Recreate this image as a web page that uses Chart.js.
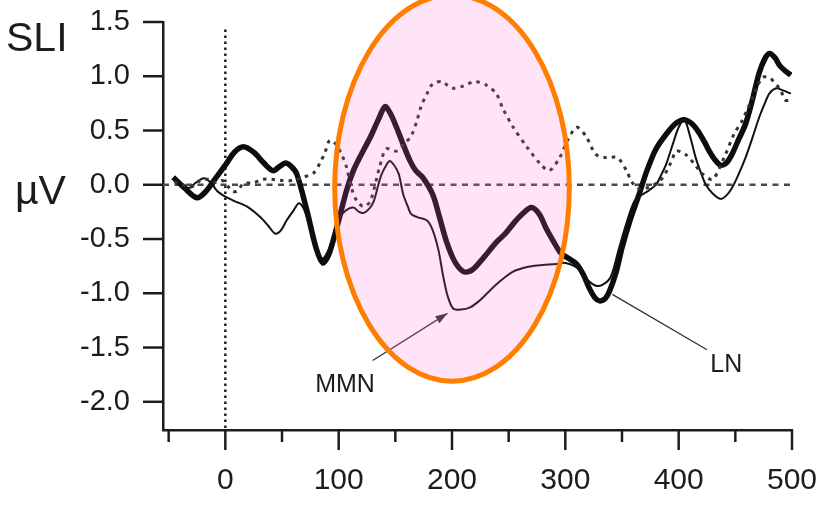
<!DOCTYPE html>
<html>
<head>
<meta charset="utf-8">
<script src="https://cdn.jsdelivr.net/npm/chart.js@4.4.1/dist/chart.umd.min.js"></script>
<style>
  html, body { margin: 0; padding: 0; background: #fff; }
  #wrap { width: 827px; height: 505px; position: relative; }
</style>
</head>
<body>
<div id="wrap"><canvas id="erp"></canvas></div>
<script>
// ERP waveforms (ms, µV)
const thickTimes = [-46, -36, -25, -17, -10, 0, 8, 16, 25, 34, 42, 48, 53, 58, 63, 72, 80, 86, 91, 95, 100, 107, 113, 120, 128, 135, 141, 146, 151, 157, 163, 168, 174, 183, 189, 195, 202, 210, 217, 224, 232, 239, 247, 254, 262, 270, 277, 283, 290, 296, 303, 310, 316, 321, 326, 330, 335, 339, 345, 350, 357, 365, 372, 380, 390, 398, 405, 412, 418, 423, 427, 432, 437, 442, 447, 453, 459, 465, 471, 476, 480, 485, 489, 494, 499];
const thickValues = [0.07, -0.03, -0.12, -0.06, 0.04, 0.18, 0.3, 0.35, 0.3, 0.2, 0.13, 0.17, 0.2, 0.17, 0.1, -0.24, -0.58, -0.72, -0.65, -0.52, -0.33, -0.05, 0.13, 0.28, 0.44, 0.6, 0.72, 0.65, 0.53, 0.37, 0.22, 0.13, 0.07, -0.09, -0.3, -0.52, -0.7, -0.8, -0.79, -0.72, -0.62, -0.53, -0.45, -0.36, -0.27, -0.21, -0.27, -0.4, -0.53, -0.63, -0.68, -0.73, -0.83, -0.95, -1.04, -1.07, -1.05, -0.98, -0.8, -0.58, -0.33, -0.09, 0.13, 0.33, 0.48, 0.57, 0.6, 0.56, 0.48, 0.39, 0.31, 0.23, 0.18, 0.2, 0.28, 0.42, 0.56, 0.78, 1.03, 1.16, 1.21, 1.17, 1.1, 1.05, 1.01];

const thinTimes = [-44, -38, -32, -26, -19, -13, -7, 0, 8, 19, 31, 38, 44, 49, 54, 60, 65, 70, 76, 82, 86, 91, 95, 100, 106, 113, 118, 122, 127, 131, 135, 138, 142, 145, 149, 153, 157, 161, 164, 170, 178, 183, 188, 192, 196, 201, 208, 216, 224, 232, 239, 247, 254, 262, 270, 280, 292, 300, 308, 314, 320, 327, 333, 340, 347, 354, 361, 368, 374, 380, 385, 389, 395, 400, 405, 410, 415, 420, 424, 430, 437, 442, 447, 453, 459, 465, 471, 476, 480, 486, 492, 499];
const thinValues = [0.04, 0.0, -0.03, 0.02, 0.06, 0.02, -0.06, -0.11, -0.15, -0.2, -0.3, -0.38, -0.45, -0.42, -0.33, -0.24, -0.17, -0.24, -0.45, -0.62, -0.68, -0.6, -0.48, -0.32, -0.24, -0.21, -0.25, -0.26, -0.22, -0.15, 0.0, 0.1, 0.18, 0.22, 0.18, 0.1, -0.09, -0.2, -0.27, -0.3, -0.33, -0.42, -0.6, -0.83, -1.02, -1.14, -1.15, -1.13, -1.07, -0.99, -0.92, -0.85, -0.8, -0.77, -0.75, -0.74, -0.73, -0.72, -0.75, -0.8, -0.88, -0.93, -0.92, -0.85, -0.6, -0.35, -0.15, -0.09, -0.05, 0.0, 0.1, 0.19, 0.38, 0.53, 0.6, 0.45, 0.25, 0.1, 0.0, -0.08, -0.13, -0.1, -0.03, 0.1, 0.25, 0.43, 0.62, 0.75, 0.84, 0.89, 0.87, 0.84];

const dottedTimes = [-45, -38, -30, -22, -15, -8, -3, 2, 6, 10, 16, 25, 33, 41, 50, 60, 69, 78, 84, 88, 92, 97, 103, 107, 111, 116, 122, 128, 136, 142, 151, 158, 164, 169, 173, 178, 183, 191, 200, 210, 220, 230, 239, 245, 254, 266, 279, 286, 295, 302, 310, 318, 327, 336, 346, 354, 359, 366, 374, 384, 393, 398, 406, 414, 421, 430, 440, 449, 456, 468, 474, 481, 490, 494, 499];
const dottedValues = [0.03, 0.0, -0.02, 0.04, 0.05, 0.02, 0.04, -0.01, -0.06, -0.06, 0.01, 0.02, 0.05, 0.05, 0.04, 0.04, 0.07, 0.11, 0.21, 0.3, 0.41, 0.38, 0.27, 0.16, -0.02, -0.15, -0.2, -0.15, 0.16, 0.33, 0.31, 0.38, 0.45, 0.59, 0.73, 0.84, 0.93, 0.95, 0.89, 0.91, 0.95, 0.92, 0.84, 0.7, 0.53, 0.35, 0.18, 0.13, 0.25, 0.41, 0.53, 0.45, 0.28, 0.25, 0.25, 0.13, 0.02, -0.04, -0.02, 0.04, 0.2, 0.31, 0.28, 0.19, 0.1, 0.05, 0.25, 0.47, 0.59, 0.87, 0.99, 0.98, 0.87, 0.78, 0.78];

const xTicks = [-50, 0, 50, 100, 150, 200, 250, 300, 350, 400, 450, 500];
const yTicks = [-2.0, -1.5, -1.0, -0.5, 0.0, 0.5, 1.0, 1.5];

const toPoints = (xs, ys) => xs.map((x, i) => ({ x: x, y: ys[i] }));

const FONT = '"Liberation Sans", Arial, sans-serif';
const INK = '#1c1c1c';

// highlighted window + annotations, given in data units
const mmnWindow = { x: 200, y: -0.03, rx: 103.5, ry: 1.78 };

const decorations = {
  id: 'decorations',
  beforeDatasetsDraw(chart) {
    const { ctx, chartArea, scales: { x, y } } = chart;
    ctx.save();
    // zero baseline
    ctx.strokeStyle = '#4a4a4a';
    ctx.lineWidth = 2.5;
    ctx.setLineDash([6, 5.5]);
    ctx.beginPath();
    ctx.moveTo(chartArea.left, y.getPixelForValue(0));
    ctx.lineTo(chartArea.right, y.getPixelForValue(0));
    ctx.stroke();
    // stimulus onset
    ctx.strokeStyle = '#222';
    ctx.setLineDash([2.5, 3.5]);
    ctx.beginPath();
    ctx.moveTo(x.getPixelForValue(0), y.getPixelForValue(1.43));
    ctx.lineTo(x.getPixelForValue(0), chartArea.bottom);
    ctx.stroke();
    ctx.restore();
  },
  afterDatasetsDraw(chart) {
    const { ctx, scales: { x, y } } = chart;
    ctx.save();
    ctx.strokeStyle = '#333';
    ctx.fillStyle = '#333';
    ctx.lineWidth = 1.3;

    // MMN arrow
    const ax0 = x.getPixelForValue(130), ay0 = y.getPixelForValue(-1.62);
    const ax1 = x.getPixelForValue(196), ay1 = y.getPixelForValue(-1.185);
    ctx.beginPath();
    ctx.moveTo(ax0, ay0);
    ctx.lineTo(ax1, ay1);
    ctx.stroke();
    const ang = Math.atan2(ay1 - ay0, ax1 - ax0);
    ctx.beginPath();
    ctx.moveTo(ax1, ay1);
    ctx.lineTo(ax1 - 12 * Math.cos(ang) + 4 * Math.sin(ang), ay1 - 12 * Math.sin(ang) - 4 * Math.cos(ang));
    ctx.lineTo(ax1 - 12 * Math.cos(ang) - 4 * Math.sin(ang), ay1 - 12 * Math.sin(ang) + 4 * Math.cos(ang));
    ctx.closePath();
    ctx.fill();

    // LN pointer
    ctx.beginPath();
    ctx.moveTo(x.getPixelForValue(425), y.getPixelForValue(-1.52));
    ctx.lineTo(x.getPixelForValue(341.5), y.getPixelForValue(-1.01));
    ctx.stroke();

    // shaded window
    const cx = x.getPixelForValue(mmnWindow.x);
    const cy = y.getPixelForValue(mmnWindow.y);
    const rx = x.getPixelForValue(mmnWindow.x + mmnWindow.rx) - cx;
    const ry = y.getPixelForValue(mmnWindow.y - mmnWindow.ry) - cy;
    ctx.beginPath();
    ctx.ellipse(cx, cy, rx, ry, 0, 0, Math.PI * 2);
    ctx.fillStyle = 'rgba(250, 105, 205, 0.18)';
    ctx.fill();
    ctx.lineWidth = 5;
    ctx.strokeStyle = '#ff7d00';
    ctx.stroke();

    // labels
    ctx.fillStyle = INK;
    ctx.font = '25px ' + FONT;
    ctx.textAlign = 'center';
    ctx.textBaseline = 'alphabetic';
    ctx.fillText('MMN', x.getPixelForValue(105.6), y.getPixelForValue(-1.91));
    ctx.fillText('LN', x.getPixelForValue(442), y.getPixelForValue(-1.73));
    ctx.restore();
  },
  afterDraw(chart) {
    const { ctx, chartArea, scales: { x, y } } = chart;
    ctx.save();
    ctx.strokeStyle = INK;
    ctx.lineWidth = 2.5;
    // x tick marks, long ones every 100 ms
    xTicks.forEach(v => {
      const px = x.getPixelForValue(v);
      const len = v % 100 === 0 ? 20 : 12;
      ctx.beginPath();
      ctx.moveTo(px, chartArea.bottom);
      ctx.lineTo(px, chartArea.bottom + len);
      ctx.stroke();
    });
    // y tick marks
    yTicks.forEach(v => {
      const py = y.getPixelForValue(v);
      ctx.beginPath();
      ctx.moveTo(chartArea.left - 20, py);
      ctx.lineTo(chartArea.left, py);
      ctx.stroke();
    });
    // axis titles
    ctx.fillStyle = INK;
    ctx.font = '41px ' + FONT;
    ctx.textAlign = 'left';
    ctx.textBaseline = 'alphabetic';
    ctx.fillText('SLI', 6, 51);
    ctx.fillText('µV', 15, 204);
    ctx.restore();
  }
};

const ctx = document.getElementById('erp').getContext('2d');
new Chart(ctx, {
  type: 'line',
  data: {
    datasets: [
      {
        label: 'dotted',
        data: toPoints(dottedTimes, dottedValues),
        borderColor: '#333',
        borderWidth: 3,
        borderDash: [3.5, 5],
        pointRadius: 0,
        tension: 0.3
      },
      {
        label: 'thin',
        data: toPoints(thinTimes, thinValues),
        borderColor: '#111',
        borderWidth: 2,
        pointRadius: 0,
        tension: 0.3
      },
      {
        label: 'thick',
        data: toPoints(thickTimes, thickValues),
        borderColor: '#0d0d0d',
        borderWidth: 5.5,
        pointRadius: 0,
        tension: 0.3
      }
    ]
  },
  options: {
    responsive: true,
    maintainAspectRatio: false,
    animation: false,
    layout: { padding: { top: 22, right: 35, left: 0, bottom: 0 } },
    plugins: { legend: { display: false }, tooltip: { enabled: false } },
    scales: {
      x: {
        type: 'linear',
        min: -55,
        max: 500,
        afterBuildTicks: s => { s.ticks = xTicks.map(v => ({ value: v })); },
        afterFit: s => { s.height = 75; },
        grid: { display: false, drawTicks: true, tickLength: 30 },
        border: { display: true, color: INK, width: 2.5 },
        ticks: {
          padding: 3,
          maxRotation: 0,
          autoSkip: false,
          color: INK,
          font: { family: FONT, size: 30 },
          callback: v => (v % 100 === 0 ? String(v) : '')
        }
      },
      y: {
        min: -2.26,
        max: 1.5,
        afterBuildTicks: s => { s.ticks = yTicks.map(v => ({ value: v })); },
        afterFit: s => { s.width = 163; },
        grid: { display: false, drawTicks: true, tickLength: 33 },
        border: { display: true, color: INK, width: 2.5 },
        ticks: {
          padding: 0,
          color: INK,
          font: { family: FONT, size: 29 },
          callback: v => v.toFixed(1)
        }
      }
    }
  },
  plugins: [decorations]
});
</script>
</body>
</html>
